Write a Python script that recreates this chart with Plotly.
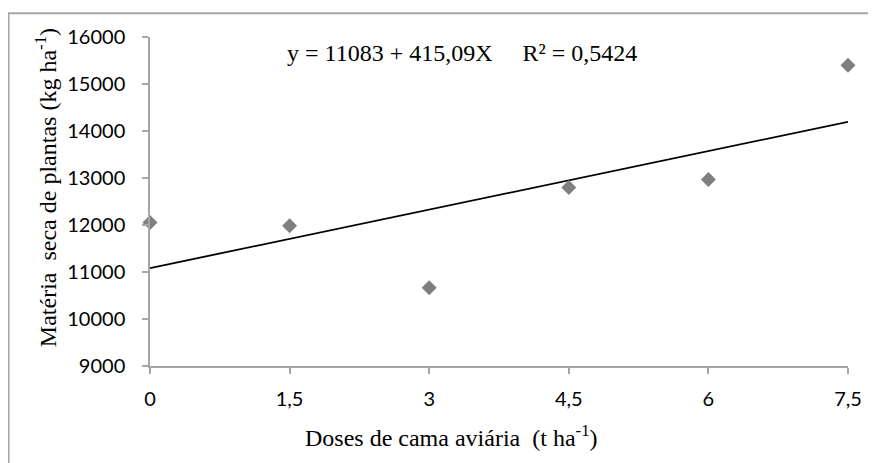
import plotly.graph_objects as go

doses = [0, 1.5, 3, 4.5, 6, 7.5]
materia_seca = [12054, 11982, 10664, 12800, 12968, 15400]
trend_x = [0, 7.5]
trend_y = [11083, 14196]
x_ticks = [0, 1.5, 3, 4.5, 6, 7.5]
x_tick_labels = ["0", "1,5", "3", "4,5", "6", "7,5"]
y_ticks = [9000, 10000, 11000, 12000, 13000, 14000, 15000, 16000]
equation_text = "y = 11083 + 415,09X     R² = 0,5424"

fig = go.Figure()
fig.add_trace(go.Scatter(
    x=trend_x, y=trend_y, mode="lines",
    line=dict(color="black", width=1.8), showlegend=False, hoverinfo="skip"))
fig.add_trace(go.Scatter(
    x=doses, y=materia_seca, mode="markers",
    marker=dict(symbol="diamond", size=11.5, color="#7f7f7f", line=dict(width=0)),
    showlegend=False, cliponaxis=False))

axis_col = "#a6a6a6"
serif = "Liberation Serif, Times New Roman, serif"
# page coordinates: figure is placed at (8, 8) by the page body margin
PL, PR, PT, PB = 150, 848, 36.7, 366
pw, ph = PR - PL, PB - PT

def px(x):
    return (x - PL) / pw

def py(y):
    return (PB - y) / ph

fig.update_layout(
    width=868, height=455,
    margin=dict(l=PL - 8, r=868 - (PR - 8), t=PT - 8, b=455 - (PB - 8)),
    paper_bgcolor="white", plot_bgcolor="white",
    font=dict(family="Lato, Carlito, sans-serif", size=20, color="black"),
    xaxis=dict(
        range=[0, 7.5], tickvals=x_ticks, ticktext=x_tick_labels,
        showgrid=False, zeroline=False, showline=True, linecolor=axis_col, linewidth=1.5,
        ticks="outside", ticklen=6, tickcolor=axis_col, tickwidth=1.5,
        ticklabelstandoff=8,
    ),
    yaxis=dict(
        range=[9000, 16000], tickvals=y_ticks, ticktext=[str(v) for v in y_ticks],
        showgrid=False, zeroline=False, showline=True, linecolor=axis_col, linewidth=1.5,
        ticks="outside", ticklen=6, tickcolor=axis_col, tickwidth=1.5,
        ticklabelstandoff=13,
    ),
    shapes=[dict(
        type="rect", xref="paper", yref="paper",
        x0=px(8.5), x1=1.2, y0=-0.6, y1=py(13),
        line=dict(color="#a6a6a6", width=2), fillcolor="rgba(0,0,0,0)", layer="below")],
    annotations=[
        dict(text=equation_text, xref="paper", yref="paper",
             x=px(461.5), y=py(53), showarrow=False,
             xanchor="center", yanchor="middle",
             font=dict(family=serif, size=24, color="black")),
        dict(text="Doses de cama aviária  (t ha<sup>-1</sup>)", xref="paper", yref="paper",
             x=px(451), y=py(436), showarrow=False,
             xanchor="center", yanchor="middle",
             font=dict(family=serif, size=24, color="black")),
        dict(text="Matéria  seca de plantas (kg ha<sup>-1</sup>)", xref="paper", yref="paper",
             x=px(46), y=py(188), showarrow=False, textangle=-90,
             xanchor="center", yanchor="middle",
             font=dict(family=serif, size=24, color="black")),
    ],
)

fig.write_html("out.html")
